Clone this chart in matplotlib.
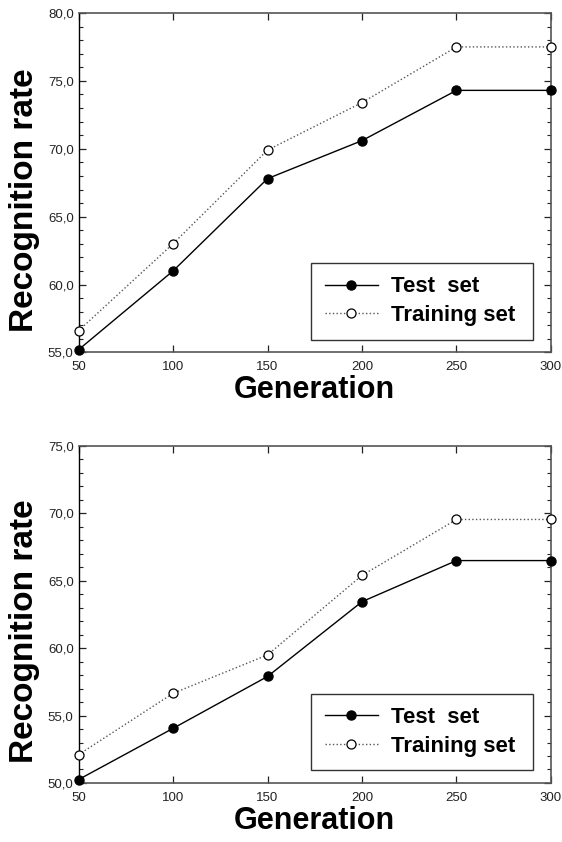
import numpy as np
import matplotlib
matplotlib.use('Agg')
import matplotlib.pyplot as plt
from matplotlib.ticker import MultipleLocator, FuncFormatter

plt.rcParams['font.family'] = ['Liberation Sans', 'DejaVu Sans']

generations = [50, 100, 150, 200, 250, 300]

# upper chart
test_top = [55.2, 61.0, 67.8, 70.6, 74.3, 74.3]
train_top = [56.6, 63.0, 69.9, 73.4, 77.5, 77.5]

# lower chart
test_bottom = [50.25, 54.05, 57.9, 63.45, 66.5, 66.5]
train_bottom = [52.1, 56.65, 59.5, 65.4, 69.55, 69.55]


def comma_fmt(v, pos):
    return ('%.1f' % v).replace('.', ',')


def draw_panel(ax, test, train, ylim):
    ax.plot(generations, test, '-', color='black', lw=1.0, marker='o',
            ms=6.5, mfc='black', mec='black', clip_on=False, zorder=3,
            label='Test  set')
    ax.plot(generations, train, ':', color='#555555', lw=1.0, marker='o',
            ms=6.5, mfc='white', mec='black', mew=0.9, clip_on=False,
            zorder=3, label='Training set')

    ax.set_xlim(50, 300)
    ax.set_ylim(*ylim)
    ax.set_xticks(generations)
    ax.yaxis.set_major_locator(MultipleLocator(5))
    ax.yaxis.set_minor_locator(MultipleLocator(1))
    ax.yaxis.set_major_formatter(FuncFormatter(comma_fmt))

    ax.tick_params(which='both', direction='in', top=True, right=True,
                   labelsize=9.5, colors='#222222')
    ax.tick_params(axis='x', pad=6.5)
    ax.tick_params(axis='y', pad=3.5)
    ax.tick_params(which='major', length=5, width=0.9)
    ax.tick_params(which='minor', length=3, width=0.8)

    for side in ['top', 'right', 'bottom']:
        ax.spines[side].set_color('#555555')
        ax.spines[side].set_linewidth(1.2)
    ax.spines['left'].set_color('black')
    ax.spines['left'].set_linewidth(1.0)

    ax.set_xlabel('Generation', fontsize=22, fontweight='bold')
    ax.xaxis.set_label_coords(0.5, -0.067)
    ax.set_ylabel('Recognition rate', fontsize=24, fontweight='bold')
    ax.yaxis.set_label_coords(-0.081, 0.449)

    leg = ax.legend(loc='lower right', bbox_to_anchor=(0.493, 0.038, 0.469, 0.2),
                    mode='expand', borderaxespad=0, numpoints=1,
                    handlelength=2.4, handletextpad=0.6, labelspacing=0.35,
                    borderpad=0.6, fancybox=False, framealpha=1,
                    edgecolor='#333333', prop={'weight': 'bold', 'size': 16})
    leg.get_frame().set_linewidth(1.0)


fig = plt.figure(figsize=(5.62, 8.42), dpi=100)

ax1 = fig.add_axes([0.1397, 0.5814, 0.8407, 0.4032])
draw_panel(ax1, test_top, train_top, (55, 80))

ax2 = fig.add_axes([0.1397, 0.0701, 0.8407, 0.4002])
draw_panel(ax2, test_bottom, train_bottom, (50, 75))

fig.savefig('out.png', dpi=100)
